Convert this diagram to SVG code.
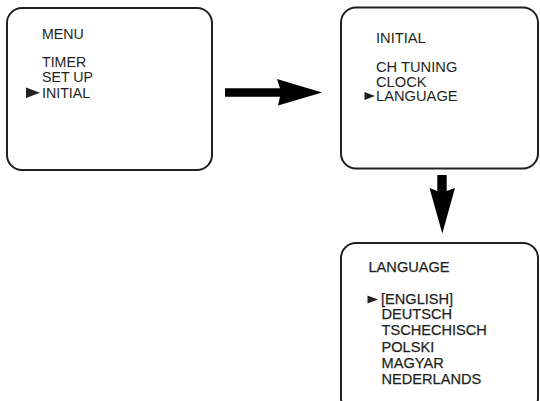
<svg xmlns="http://www.w3.org/2000/svg" width="540" height="401" viewBox="0 0 540 401">
  <style>
    .screen { fill: #ffffff; stroke: #231f20; stroke-width: 2; }
    .label { font-family: "Liberation Sans", Arial, sans-serif; fill: #231f20; }
    .m1 { font-size: 14.2px; }
    .m2 { font-size: 14.7px; }
    .m3 { font-size: 14.6px; stroke: #231f20; stroke-width: 0.25; }
    .cursor { fill: #231f20; }
    .flow { fill: #000000; }
  </style>
  <rect width="540" height="401" fill="#ffffff"/>

  <!-- main menu screen -->
  <g id="menu">
    <rect class="screen" x="7" y="8" width="205" height="162" rx="15" ry="15"/>
    <text class="label m1" x="42" y="39">MENU</text>
    <text class="label m1" x="42" y="67">TIMER</text>
    <text class="label m1" x="42" y="82">SET UP</text>
    <polygon class="cursor" points="26,87.5 40,92.8 26,98"/>
    <text class="label m1" x="42" y="97.5">INITIAL</text>
  </g>

  <!-- initial submenu screen -->
  <g id="initial">
    <rect class="screen" x="341" y="7.5" width="197" height="161" rx="15" ry="15"/>
    <text class="label m2" x="376" y="43">INITIAL</text>
    <text class="label m2" x="376" y="71.5">CH TUNING</text>
    <text class="label m2" x="376" y="86.5">CLOCK</text>
    <polygon class="cursor" points="364.5,92 375,96 364.5,100"/>
    <text class="label m2" x="376" y="101">LANGUAGE</text>
  </g>

  <!-- language selection screen -->
  <g id="language">
    <rect class="screen" x="341" y="243" width="197" height="170" rx="15" ry="15"/>
    <text class="label m3" x="368.5" y="271.5">LANGUAGE</text>
    <polygon class="cursor" points="367.5,295.5 378,299.5 367.5,303.5"/>
    <text class="label m3" x="381" y="304">[ENGLISH]</text>
    <text class="label m3" x="381.5" y="318.5">DEUTSCH</text>
    <text class="label m3" x="381.5" y="335">TSCHECHISCH</text>
    <text class="label m3" x="381.5" y="351.5">POLSKI</text>
    <text class="label m3" x="381.5" y="367.8">MAGYAR</text>
    <text class="label m3" x="381.5" y="384">NEDERLANDS</text>
  </g>

  <!-- block arrows between screens -->
  <g id="connectors">
    <polygon class="flow" points="225,88.3 280,88.3 277,79 322,92.5 278,105.5 280,96.7 225,96.7"/>
    <polygon class="flow" points="437.3,175 446.7,175 446.7,191 455,188 442.3,233.5 429.5,188 437.3,191"/>
  </g>
</svg>
